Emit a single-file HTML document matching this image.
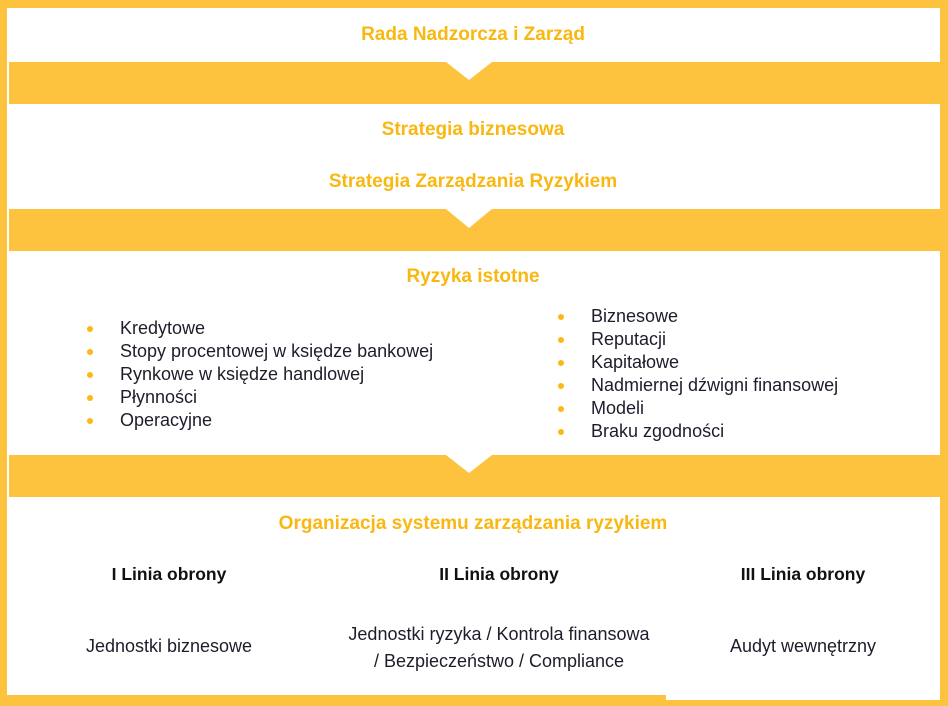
<!DOCTYPE html>
<html><head><meta charset="utf-8"><style>
body{margin:0;width:948px;height:706px;position:relative;background:#fff;overflow:hidden;font-family:"Liberation Sans",sans-serif}
.y{position:absolute;background:#FDC23E}
.t{position:absolute;white-space:nowrap;transform:translateX(-50%);color:#F9B811;font-weight:bold;font-size:19px;line-height:22px}
.b{position:absolute;white-space:nowrap;color:#1d1d2b;font-size:18px;line-height:23px}
.c{transform:translateX(-50%);text-align:center}
.h{font-weight:bold;color:#111;font-size:17.5px}
ul{margin:0;padding:0;list-style:none}
li{position:relative;padding-left:34px}
li:before{content:"";position:absolute;left:1px;top:9px;width:6px;height:6px;border-radius:50%;background:#FDB813}
</style></head><body>
<div class="y" style="left:0;top:0;width:948px;height:8px"></div>
<div class="y" style="left:0;top:0;width:7px;height:706px"></div>
<div class="y" style="left:940px;top:0;width:8px;height:706px"></div>
<div class="y" style="left:0;top:695px;width:666px;height:11px"></div>
<div class="y" style="left:0;top:700px;width:948px;height:6px"></div>
<svg style="position:absolute;left:0;top:0" width="948" height="706">
<g fill="#FDC23E">
<polygon points="9,62 446,62 469,80 492,62 940,62 940,104 9,104"/>
<polygon points="9,209 446,209 469,228 492,209 940,209 940,251 9,251"/>
<polygon points="9,455 446,455 469,473 492,455 940,455 940,497 9,497"/>
</g></svg>
<div class="t" style="left:473px;top:24px">Rada Nadzorcza i Zarząd</div>
<div class="t" style="left:473px;top:119px">Strategia biznesowa</div>
<div class="t" style="left:473px;top:171px">Strategia Zarządzania Ryzykiem</div>
<div class="t" style="left:473px;top:266px">Ryzyka istotne</div>
<ul class="b" style="left:86px;top:317px"><li>Kredytowe</li><li>Stopy procentowej w księdze bankowej</li><li>Rynkowe w księdze handlowej</li><li>Płynności</li><li>Operacyjne</li></ul>
<ul class="b" style="left:557px;top:305px"><li>Biznesowe</li><li>Reputacji</li><li>Kapitałowe</li><li>Nadmiernej dźwigni finansowej</li><li>Modeli</li><li>Braku zgodności</li></ul>
<div class="t" style="left:473px;top:513px">Organizacja systemu zarządzania ryzykiem</div>
<div class="b c h" style="left:169px;top:563px">I Linia obrony</div>
<div class="b c h" style="left:499px;top:563px">II Linia obrony</div>
<div class="b c h" style="left:803px;top:563px">III Linia obrony</div>
<div class="b c" style="left:169px;top:635px">Jednostki biznesowe</div>
<div class="b c" style="left:499px;top:621px;line-height:27px">Jednostki ryzyka / Kontrola finansowa<br>/ Bezpieczeństwo / Compliance</div>
<div class="b c" style="left:803px;top:635px">Audyt wewnętrzny</div>
</body></html>
